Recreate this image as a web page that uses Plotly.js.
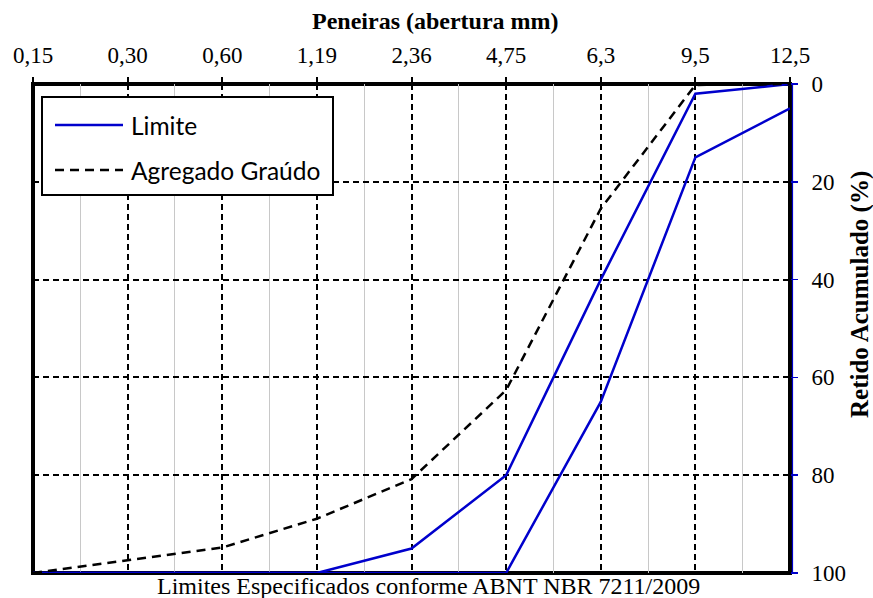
<!DOCTYPE html>
<html>
<head>
<meta charset="utf-8">
<script src="https://cdn.plot.ly/plotly-3.0.1.min.js"></script>
<style>
  html, body { margin: 0; padding: 0; background: #fff; }
  #chart { width: 873px; height: 598px; }
</style>
</head>
<body>
<div id="chart"></div>
<script>
// Sieve openings (mm), drawn at equal spacing along the top axis
const sieves = ["0,15", "0,30", "0,60", "1,19", "2,36", "4,75", "6,3", "9,5", "12,5"];

// Specified limits (cumulative % retained): upper and lower zone boundaries
const limitUpper = [100, 100, 100, 100, 95, 80, 40, 2, 0];
const limitLower = [100, 100, 100, 100, 100, 100, 65, 15, 5];

// Coarse aggregate grading (cumulative % retained)
const coarseAggregate = [100, 97.4, 94.8, 88.9, 80.8, 62.6, 25.5, 0.2, 0];

const yTicks = [0, 20, 40, 60, 80, 100];

const pos = sieves.map((_, i) => i);
const minorPos = sieves.slice(1).map((_, i) => i + 0.5);

const blue = "#0000cc";

const traces = [
  {
    x: pos, y: limitUpper, type: "scatter", mode: "lines", name: "Limite",
    line: { color: blue, width: 2.5 }, cliponaxis: false, showlegend: false
  },
  {
    x: pos, y: limitLower, type: "scatter", mode: "lines", name: "Limite",
    line: { color: blue, width: 2.5 }, cliponaxis: false, showlegend: false
  },
  {
    x: pos, y: coarseAggregate, type: "scatter", mode: "lines", name: "Agregado Graúdo",
    line: { color: "#000000", width: 2.5, dash: "9px,6px" }, cliponaxis: false, showlegend: false
  }
];

const serif = "Liberation Serif";
const sans = "Lato";

// Legend box drawn in paper coordinates
const lgX0 = 9 / 757, lgX1 = 300 / 757;
const lgY0 = (573 - 195) / 489, lgY1 = (573 - 97) / 489;
const lgRow1 = (573 - 125) / 489, lgRow2 = (573 - 170) / 489;
const lgLineX0 = 22 / 757, lgLineX1 = 90 / 757, lgTextX = 96 / 757;

const layout = {
  width: 873, height: 598,
  margin: { l: 33, r: 83, t: 84, b: 25 },
  paper_bgcolor: "#ffffff",
  plot_bgcolor: "#ffffff",
  showlegend: false,
  xaxis: {
    type: "linear", range: [0, 8], side: "top",
    tickmode: "array", tickvals: pos, ticktext: sieves,
    ticks: "outside", ticklen: 6, tickwidth: 2, tickcolor: "#000",
    ticklabelstandoff: 5,
    tickfont: { family: serif, size: 23, color: "#000" },
    showgrid: true, gridcolor: "#000", gridwidth: 2, griddash: "6px,4px",
    minor: { tickmode: "array", tickvals: minorPos, showgrid: true, gridcolor: "#c8c8c8",
             gridwidth: 1, griddash: "solid", ticks: "" },
    zeroline: false, showline: false, fixedrange: true
  },
  yaxis: {
    range: [100, 0], side: "right",
    tickmode: "array", tickvals: yTicks, ticktext: yTicks.map(String),
    ticks: "outside", ticklen: 7, tickwidth: 1.5, tickcolor: blue,
    ticklabelstandoff: 9,
    tickfont: { family: serif, size: 23, color: "#000" },
    showgrid: true, gridcolor: "#000", gridwidth: 2, griddash: "6px,4px",
    zeroline: false, showline: false, fixedrange: true
  },
  shapes: [
    // plot frame
    { type: "rect", xref: "paper", yref: "paper", x0: 0, x1: 1, y0: 0, y1: 1,
      line: { color: "#000", width: 4 }, layer: "between" },
    // blue right axis line beside the frame
    { type: "line", xref: "paper", yref: "paper", xsizemode: "pixel", xanchor: 1,
      x0: 2.5, x1: 2.5, y0: 0, y1: 1, line: { color: blue, width: 1.2 }, layer: "above" },
    // legend box
    { type: "rect", xref: "paper", yref: "paper", x0: lgX0, x1: lgX1, y0: lgY0, y1: lgY1,
      line: { color: "#000", width: 2 }, fillcolor: "#ffffff", layer: "above" },
    { type: "line", xref: "paper", yref: "paper", x0: lgLineX0, x1: lgLineX1, y0: lgRow1, y1: lgRow1,
      line: { color: blue, width: 2.5 }, layer: "above" },
    { type: "line", xref: "paper", yref: "paper", x0: lgLineX0, x1: lgLineX1, y0: lgRow2, y1: lgRow2,
      line: { color: "#000", width: 2.5, dash: "9px,6px" }, layer: "above" }
  ],
  annotations: [
    { text: "<b>Peneiras (abertura mm)</b>", xref: "paper", yref: "paper",
      x: (435.5 - 33) / 757, y: (573 - 21) / 489, xanchor: "center", yanchor: "middle", showarrow: false,
      font: { family: serif, size: 24, color: "#000" } },
    { text: "<b>Retido Acumulado (%)</b>", xref: "paper", yref: "paper",
      x: (860 - 33) / 757, y: (573 - 294) / 489, xanchor: "center", yanchor: "middle",
      textangle: -90, showarrow: false,
      font: { family: serif, size: 25, color: "#000" } },
    { text: "Limites Especificados conforme ABNT NBR 7211/2009", xref: "paper", yref: "paper",
      x: (428 - 33) / 757, y: (573 - 586) / 489, xanchor: "center", yanchor: "middle", showarrow: false,
      font: { family: serif, size: 24, color: "#000" } },
    { text: "Limite", xref: "paper", yref: "paper",
      x: lgTextX, y: lgRow1, xanchor: "left", yanchor: "middle", showarrow: false,
      font: { family: sans, size: 24.5, color: "#000" } },
    { text: "Agregado Graúdo", xref: "paper", yref: "paper",
      x: lgTextX, y: lgRow2, xanchor: "left", yanchor: "middle", showarrow: false,
      font: { family: sans, size: 24.5, color: "#000" } }
  ]
};

Plotly.newPlot("chart", traces, layout, { displayModeBar: false, staticPlot: true });
</script>
</body>
</html>
